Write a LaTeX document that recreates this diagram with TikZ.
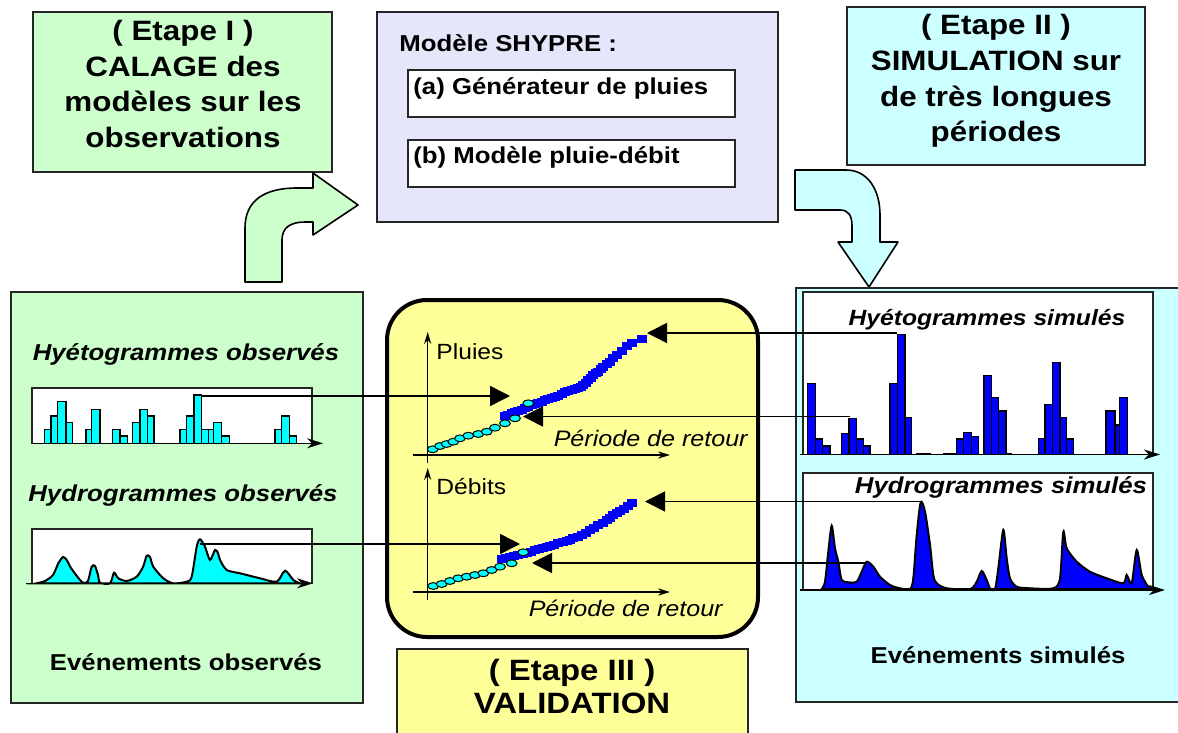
\documentclass[tikz,border=0pt]{standalone}
\usepackage{fontspec}
\setmainfont{Liberation Sans}[FakeStretch=1.12]
\usetikzlibrary{arrows.meta}
\definecolor{lgreen}{RGB}{204,255,204}
\definecolor{lcyan}{RGB}{204,255,255}
\definecolor{lav}{RGB}{230,230,250}
\definecolor{lyellow}{RGB}{255,255,153}
\definecolor{aqua}{RGB}{0,255,255}
\definecolor{pureblue}{RGB}{0,0,255}
\begin{document}
\begin{tikzpicture}[x=0.5pt,y=-0.5pt,
  panel/.style={draw=black!85, line width=0.8pt},
  etape/.style={font=\bfseries\fontsize{14}{17.8}\selectfont, align=center, inner sep=0},
  etapebig/.style={font=\bfseries\fontsize{14.7}{16.5}\selectfont, align=center, inner sep=0},
  boldtxt/.style={font=\bfseries\fontsize{11.5}{13}\selectfont, inner sep=0},
  bitxt/.style={font=\bfseries\itshape\fontsize{11.5}{13}\selectfont, inner sep=0},
  plaintxt/.style={font=\fontsize{11}{13}\selectfont, inner sep=0},
  ittxt/.style={font=\itshape\fontsize{11.2}{13}\selectfont, inner sep=0},
  bigarr/.style={line width=0.8pt, -{Triangle[length=10pt,width=10pt]}},
  axisarr/.style={line width=0.8pt, -{Stealth[length=8pt,width=5pt,inset=2.5pt]}},
  smallaxis/.style={line width=0.7pt, -{Stealth[length=6pt,width=3.6pt,inset=2pt]}},
  bar/.style={draw=black, line width=0.7pt},
  blockarr/.style={draw=black, line width=0.8pt, line join=round},
  sq/.style={fill=pureblue},
  dot/.style={draw=black, fill=aqua, line width=0.5pt}
]
\useasboundingbox (0,0) rectangle (1178,733);

% ---------- top boxes ----------
\draw[panel, fill=lgreen] (33,12) rectangle (332,172);
\node[etape] (etape1) at (183,84) {( Etape I )\\CALAGE des\\modèles sur les\\observations};

\draw[panel, fill=lav] (377,12) rectangle (778,222);
\node[boldtxt, anchor=west] (shypre) at (399,43) {Modèle SHYPRE :};
\draw[panel, fill=white] (408,70) rectangle (735,117);
\node[boldtxt, anchor=west] (gen) at (413,88) {(a) Générateur de pluies};
\draw[panel, fill=white] (408,140) rectangle (735,187);
\node[boldtxt, anchor=west] (pd) at (413,157) {(b) Modèle pluie-débit};

\draw[panel, fill=lcyan] (847,7) rectangle (1145,165);
\node[etape] (etape2) at (996,81) {( Etape II )\\SIMULATION sur\\de très longues\\périodes};

% ---------- block arrows ----------
\draw[blockarr, fill=lgreen] (245,282) -- (245,228) .. controls (245,200) and (265,188) .. (297,188)
  -- (313,188) -- (313,173) -- (358,205) -- (313,235) -- (313,222) -- (305,222)
  .. controls (290,222) and (282,228) .. (282,240) -- (282,282) -- cycle;
\draw[blockarr, fill=lcyan] (795,170) -- (846,170) .. controls (868,170) and (880,190) .. (880,215)
  -- (880,242) -- (898,242) -- (869,287) -- (838,242) -- (852,242) -- (852,226)
  .. controls (852,215) and (848,210) .. (840,210) -- (795,210) -- cycle;

% ---------- left panel ----------
\draw[panel, fill=lgreen] (11,292) rectangle (363,703);
\node[bitxt] (hyobs) at (186,354) {Hyétogrammes observés};
\node[bitxt] (hdobs) at (183,495) {Hydrogrammes observés};
\node[boldtxt] (evobs) at (186,662) {Evénements observés};

\draw[panel, fill=white] (32,388) rectangle (312,443.3);
\foreach \a/\b/\t in {44.3/51/429.3, 51/57.7/416, 57.7/66/401.7, 66/72.7/422.7,
  86/91.7/429.3, 91.7/100/409.3, 112.7/120/429.3, 120/127.7/436,
  132.7/140/422.7, 140/147.3/409.3, 147.3/154/416,
  180/186.7/429.3, 186.7/194/416, 194/201.7/395, 201.7/208.3/429.3, 208.3/213.3/429.3,
  213.3/221.7/422.7, 221.7/229.3/436, 275/281.7/429.3, 281.7/289.3/416, 289.3/296.7/436}
  {\draw[bar, fill=aqua] (\a,443.3) rectangle (\b,\t);}
\coordinate (hyaxL) at (32,443.3);
\coordinate (hyaxR) at (323,443.3);
\draw[axisarr] (hyaxL) -- (hyaxR);

\draw[panel, fill=white] (32,529) rectangle (312,583.3);
\draw[line width=1pt, fill=aqua] plot[smooth, tension=0.45] coordinates {
 (36.7,583.3) (45,581) (53,575) (58.3,563.3) (63,557) (66.7,560) (71,568) (80,580) (84,583)
 (88,581) (91.7,566.7) (95,566) (98,575) (100,582.7) (110,583.3) (114,572.7) (118.3,578.3)
 (126.7,581) (136.7,576.7) (143,567) (146.7,555.7) (150,557) (153.3,566.7) (163.3,578.3)
 (173.3,583.3) (186.7,581.7) (191.7,576.7) (196.7,546.7) (200,539.3) (205,546.7) (210,560)
 (215,550) (218,553) (220,560) (226.7,570) (240,573.3) (260,578.3) (276.7,581.7) (285,570.7)
 (293.3,580) (300,583.3)} -- cycle;
\coordinate (hdaxL) at (26,583.3);
\coordinate (hdaxR) at (313,583.3);
\draw[axisarr] (hdaxL) -- (hdaxR);

% ---------- right panel ----------
\draw[panel, fill=lcyan] (796,288) rectangle (1190,702);
\draw[panel, fill=white] (802.7,292) rectangle (1152.7,454.3);
\node[bitxt, font=\bfseries\itshape\fontsize{11}{13}\selectfont] (hysim) at (987,320) {Hyétogrammes simulés};
\foreach \a/\b/\t in {807.3/815.7/383.3, 815.7/822.7/439, 822.7/830/446,
  841.7/849/433.3, 849/856.7/418.3, 856.7/863.3/439, 863.3/870/446,
  890/897.3/383.3, 897.3/905/334.3, 905/911.7/417.7,
  916.7/930/453.3, 943.3/956.7/453.3, 956.7/963.3/439, 963.3/971.7/432.3, 971.7/978.3/436.7,
  984/991.7/375.7, 991.7/998.3/397.7, 998.3/1006/411, 1006/1011.7/453.3,
  1038.3/1045/438.3, 1045/1052.7/404.3, 1052.7/1060/362.3, 1060/1066.7/417.7, 1066.7/1073.3/439,
  1106/1115/411, 1115/1119.3/425, 1119.3/1127.7/397.7}
  {\draw[bar, fill=pureblue] (\a,454.3) rectangle (\b,\t);}
\coordinate (hsaxL) at (800,454.5);
\coordinate (hsaxR) at (1160,454.5);
\draw[axisarr] (hsaxL) -- (hsaxR);

\draw[panel, fill=white] (802.7,473) rectangle (1153,589.3);
\node[bitxt] (hdsim) at (1001,487) {Hydrogrammes simulés};
\draw[line width=1pt, fill=pureblue] plot[smooth, tension=0.45] coordinates {
 (821.7,589) (825,581.7) (828.3,551.7) (831.7,525.7) (835,548.3) (838.3,561.7) (841.7,580)
 (848.3,582.3) (856.7,581.7) (861.7,571.7) (866.7,561.7) (873.3,566.7) (880,576.7) (890,585)
 (900,588.3) (910,589) (913.3,578.3) (916.7,535) (920.7,502.3) (925,511.7) (930,545) (933.3,575)
 (936.7,583.3) (946.7,588.3) (970,589) (976.7,581.7) (981.7,571) (986.7,580) (990,588.3) (995,589)
 (998.3,568.3) (1003.3,530) (1006.7,558.3) (1010,578.3) (1016.7,586.7) (1030,588.3) (1053.3,588.3)
 (1060,578.3) (1063.3,531.7) (1066.7,548.3) (1076.7,561.7) (1090,571.7) (1106.7,578.3)
 (1123.3,583.3) (1126.7,575) (1131.7,583.3) (1136.7,550) (1141.7,575) (1148.3,586.7) (1153.3,589)} -- cycle;
\coordinate (hdsL) at (800,590);
\coordinate (hdsR) at (1165,590);
\draw[axisarr] (hdsL) -- (hdsR);
\node[boldtxt] (evsim) at (998,655) {Evénements simulés};

% ---------- middle validation box ----------
\draw[fill=lyellow, line width=2pt, rounded corners=20pt] (387,300) rectangle (758,637);
\draw[panel, fill=lyellow] (397,649) rectangle (748,745);
\node[etapebig] (etape3) at (572,686.5) {( Etape III )\\VALIDATION};

% top plot
\coordinate (p1o) at (427.7,463);
\coordinate (p1y) at (427.7,332);
\coordinate (p1xl) at (413,455);
\coordinate (p1x) at (670,455);
\draw[smallaxis] (p1o) -- (p1y);
\draw[smallaxis] (p1xl) -- (p1x);
\node[plaintxt, anchor=west] (pluies) at (436,352) {Pluies};
\node[ittxt, anchor=east] (per1) at (748,438) {Période de retour};
\foreach \x/\y in {505/416, 508/414.5, 511.7/412.7, 515/411.7, 518.3/410.7, 521.7/409.5, 525/408.3,
  528.3/406.7, 531.7/405, 535/404, 538.3/403.3, 541.7/401.7, 545/400, 548.3/399, 551.7/398.3,
  555/397, 558.3/396, 561.7/394, 565/391.7, 568.3/391, 571.7/390, 575/389, 578.3/388.3,
  581/386.5, 583.3/385, 586/382.5, 588.3/380, 591/377.5, 593.3/375, 596/373.3, 598.3/371.7,
  601/369, 603.3/366.7, 606.7/364, 610/361.7, 613.3/358.3, 616.7/355, 621.7/350.5, 626.7/346,
  631.7/343, 641.7/339}
  {\fill[sq] (\x-5,\y-4) rectangle (\x+5,\y+4);}
\foreach \x/\y in {432.7/449.3, 440/446, 446.7/444, 453.3/441.7, 460/438.3, 468.3/435.7,
  478.3/434, 486.7/431.7, 495/427.7, 505/423.3, 515/418.3, 528.3/403.3}
  {\draw[dot] (\x,\y) ellipse [x radius=2.7pt, y radius=1.7pt];}

% bottom plot
\coordinate (p2o) at (427.7,600);
\coordinate (p2y) at (427.7,468);
\coordinate (p2xl) at (413,592);
\coordinate (p2x) at (670,592);
\draw[smallaxis] (p2o) -- (p2y);
\draw[smallaxis] (p2xl) -- (p2x);
\node[plaintxt, anchor=west] (debits) at (436,487) {Débits};
\node[ittxt, anchor=east] (per2) at (723,608) {Période de retour};
\foreach \x/\y in {501.7/559.3, 505.8/558, 510/556.7, 514/555.8, 518.3/555, 522.5/554.2, 526.7/553.3,
  531/551.7, 535/550, 539/549.2, 543.3/548.3, 546.7/547.2, 550/546, 554/544.7, 558.3/543.3,
  562.5/542, 566.7/540.7, 570/539.5, 573.3/538.3, 577.5/536.7, 581.7/535, 586/532.5, 590/530,
  594/527.5, 598.3/525, 602.5/522.5, 606.7/520, 610/517.5, 613.3/515, 616.7/513, 620/511,
  624/508.5, 628.3/506, 631.7/503.3}
  {\fill[sq] (\x-5,\y-4) rectangle (\x+5,\y+4);}
\foreach \x/\y in {433.3/586, 441.7/584, 450/581, 458.3/578.3, 466.7/576.7, 475/575,
  483.3/573.3, 491.7/570, 500/566.7, 511.7/563.3, 523.3/552.3}
  {\draw[dot] (\x,\y) ellipse [x radius=2.7pt, y radius=1.7pt];}

% ---------- connectors ----------
\coordinate (hyobsPk) at (201.7,396);
\coordinate (pluieObs) at (510,396);
\coordinate (hdobsPk) at (200,544);
\coordinate (debitObs) at (520,544);
\coordinate (hysimPk) at (897,333);
\coordinate (pluieSimHi) at (647,333);
\coordinate (hysimB) at (850,416.5);
\coordinate (pluieSimLo) at (523,416.5);
\coordinate (hdsimPk) at (920.7,501.5);
\coordinate (debitSimHi) at (645,501.5);
\coordinate (hdsimB) at (866,563);
\coordinate (debitSimLo) at (532,563);
\draw[bigarr] (hyobsPk) -- (pluieObs);
\draw[bigarr] (hdobsPk) -- (debitObs);
\draw[bigarr] (hysimPk) -- (pluieSimHi);
\draw[bigarr] (hysimB) -- (pluieSimLo);
\draw[bigarr] (hdsimPk) -- (debitSimHi);
\draw[bigarr] (hdsimB) -- (debitSimLo);
\end{tikzpicture}
\end{document}
